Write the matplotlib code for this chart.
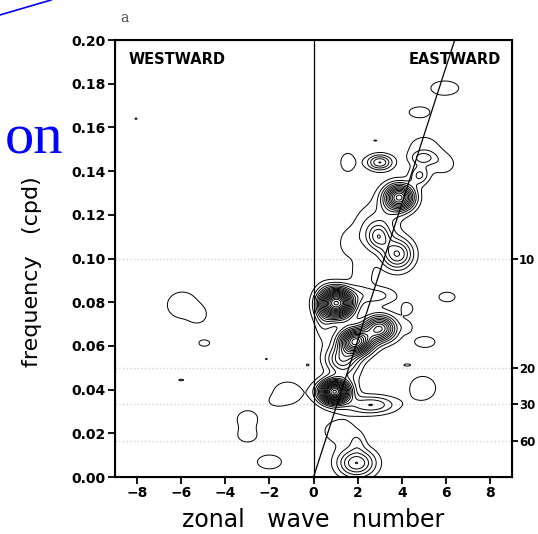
import numpy as np
import matplotlib
matplotlib.use("Agg")
import matplotlib.pyplot as plt
from matplotlib.lines import Line2D

# spectral peaks: zonal wavenumber, frequency (cpd),
# peak height (in contour units), spread in k, spread in f
blob_k = [-5.95, -5.2, -4.95, -6.0, -8.05, -1.18, -1.75, -3.0, -3.0, -2.0, -2.14, -0.27,
          0.95, 2.6, 1.2, 1.95, 2.0,
          1.9, 3.0, 1.2,
          1.05, 2.8, 0.45,
          2.95, 3.8, 3.9, 3.0, 4.95, 4.8,
          5.0, 5.9, 4.8, 5.95, 1.55, 2.8, 1.55,
          6.05, 4.27, 4.27, 5.05, 4.23, 4.95,
          2.4, 3.3, 1.5, 2.2]
blob_f = [0.0787, 0.074, 0.0613, 0.0444, 0.164, 0.0384, 0.0345, 0.0265, 0.0185, 0.0069, 0.054, 0.0513,
          0.039, 0.033, 0.021, 0.0064, 0.016,
          0.062, 0.068, 0.054,
          0.0796, 0.083, 0.074,
          0.110, 0.102, 0.128, 0.144, 0.146, 0.138,
          0.150, 0.143, 0.167, 0.178, 0.144, 0.154, 0.107,
          0.0824, 0.077, 0.0687, 0.0618, 0.0513, 0.0407,
          0.113, 0.119, 0.05, 0.093]
blob_amp = [1.5, 1.1, 1.3, 1.1, 1.05, 1.6, 0.6, 1.5, 1.35, 1.5, 1.05, 1.05,
            18, 4, 1.6, 6, 1.35,
            14, 10, 4,
            18, 2.5, 2.2,
            4, 6, 12, 5, 2.5, 3,
            1.5, 1.3, 1.4, 1.5, 1.4, 1.05, 1.4,
            1.3, 1.3, 1.2, 1.4, 1.05, 1.6,
            1.8, 1.8, 2.0, 1.6]
blob_sk = [0.75, 0.3, 0.32, 0.25, 0.15, 0.66, 0.3, 0.5, 0.42, 0.6, 0.12, 0.12,
           0.45, 0.8, 0.7, 0.6, 0.25,
           0.5, 0.5, 0.5,
           0.5, 0.7, 0.3,
           0.35, 0.5, 0.45, 0.4, 0.35, 0.3,
           0.7, 0.5, 0.55, 0.7, 0.38, 0.2, 0.35,
           0.5, 0.3, 0.22, 0.55, 0.25, 0.6,
           0.5, 0.5, 0.5, 0.4]
blob_sf = [0.0066, 0.003, 0.0019, 0.0008, 0.001, 0.0052, 0.002, 0.0042, 0.0028, 0.0035, 0.0008, 0.0008,
           0.0035, 0.003, 0.005, 0.0045, 0.003,
           0.004, 0.004, 0.004,
           0.0045, 0.003, 0.008,
           0.004, 0.005, 0.004, 0.0025, 0.002, 0.003,
           0.006, 0.004, 0.0028, 0.0036, 0.005, 0.0007, 0.005,
           0.003, 0.003, 0.0022, 0.003, 0.0008, 0.0055,
           0.008, 0.008, 0.006, 0.006]

xticks = [-8, -6, -4, -2, 0, 2, 4, 6, 8]
yticks = [0.00, 0.02, 0.04, 0.06, 0.08, 0.10, 0.12, 0.14, 0.16, 0.18, 0.20]
periods = [10, 20, 30, 60]
disp_slope = 32.0  # k per cpd of the straight line

k = np.linspace(-9, 9, 721)
f = np.linspace(0, 0.2, 801)
K, F = np.meshgrid(k, f)
Z = np.zeros_like(K)
for k0, f0, a, sk, sf in zip(blob_k, blob_f, blob_amp, blob_sk, blob_sf):
    Z += a * np.exp(-0.5 * ((K - k0) / sk) ** 2 - 0.5 * ((F - f0) / sf) ** 2)

tick_font = dict(family="DejaVu Sans", fontweight="bold", fontsize=10)

fig = plt.figure(figsize=(5.38, 5.34), dpi=100)
ax = fig.add_axes([0.2138, 0.1067, 0.738, 0.8183])

ax.contour(K, F, Z, levels=np.arange(1, 25), colors="black", linewidths=0.7)

for p in periods:
    ax.axhline(1.0 / p, color="0.82", ls=":", lw=1.0, zorder=0)
ax.axvline(0, color="black", lw=0.9)
ax.plot([0, 0.2 * disp_slope], [0, 0.2], color="black", lw=0.9)

ax.set_xlim(-9, 9)
ax.set_ylim(0, 0.2)
ax.set_xticks(xticks)
ax.set_xticklabels([str(v).replace("-", "\u2212") for v in xticks], **tick_font)
ax.set_yticks(yticks)
ax.set_yticklabels(["%.2f" % v for v in yticks], **tick_font)
ax.tick_params(direction="out", length=5, width=1.3, pad=1.5)
for s in ax.spines.values():
    s.set_linewidth(1.5)

# period (days) marks on the right
ax2 = ax.twinx()
ax2.set_ylim(0, 0.2)
ax2.set_yticks([1.0 / p for p in periods])
ax2.set_yticklabels([str(p) for p in periods], family="DejaVu Sans",
                    fontweight="bold", fontsize=8.5)
ax2.tick_params(direction="out", length=4, width=1.3, pad=1)

ax.set_xlabel("zonal   wave   number", fontsize=17, labelpad=6)
ax.set_ylabel("frequency   (cpd)", fontsize=16)
ax.yaxis.set_label_coords(-0.184, 0.47)

ax.text(0.033, 0.955, "WESTWARD", transform=ax.transAxes, fontsize=10.5,
        fontweight="bold", family="DejaVu Sans", va="center")
ax.text(0.972, 0.955, "EASTWARD", transform=ax.transAxes, fontsize=10.5,
        fontweight="bold", family="DejaVu Sans", va="center", ha="right")

fig.text(0.223, 0.966, "a", fontsize=10, family="DejaVu Serif", color="0.3",
         va="center")
fig.text(0.008, 0.713, "on", fontsize=42, family="Liberation Serif", color="blue",
         va="baseline")
fig.add_artist(Line2D([0, 0.095], [0.972, 1.0], transform=fig.transFigure,
                      color="blue", lw=1.2))

fig.savefig("out.png", dpi=100)
